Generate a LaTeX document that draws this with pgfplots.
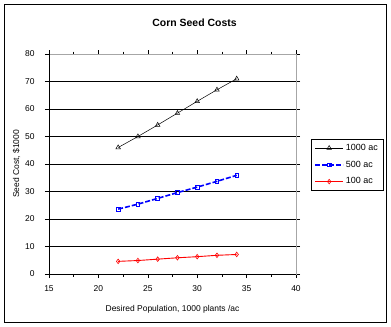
\documentclass[border=0pt]{standalone}
\usepackage{fontspec}
\setmainfont{Liberation Sans}
\usepackage{pgfplots}
\pgfplotsset{compat=1.18}
\begin{document}
\begin{tikzpicture}[x=1bp,y=1bp]
\path[use as bounding box] (-49,-53) rectangle (342,274);
\draw[black, line width=0.8bp] (-45,-48) rectangle (337,270);
\node[font=\fontsize{10.5}{12}\selectfont\bfseries] at (145.5,251.5) {Corn Seed Costs};
\begin{axis}[
  at={(0,0)}, anchor=origin,
  width=247bp, height=220bp, scale only axis,
  xmin=15, xmax=40, ymin=0, ymax=80,
  xtick={15,20,...,40}, ytick={0,10,...,80},
  minor xtick={17.5,22.5,...,37.5},
  tick align=outside,
  major tick length=4bp, minor tick length=2.5bp,
  tick style={black, line width=0.5bp},
  ymajorgrids, grid style={black, line width=0.6bp},
  axis line style={gray!70, line width=0.6bp},
  ticklabel style={font=\fontsize{8.5}{9}\selectfont},
  /pgf/number format/assume math mode=true,
  xticklabel shift=4bp,
  yticklabel style={xshift=-7bp},
  xlabel={Desired Population, 1000 plants /ac},
  ylabel={Seed Cost, \$1000},
  label style={font=\fontsize{8.5}{9}\selectfont},
  xlabel style={yshift=-7bp},
  ylabel style={yshift=-2bp},
  legend style={at={(1.061,0.614)}, anchor=north west, draw=black, line width=0.6bp,
    font=\fontsize{9}{10}\selectfont, inner xsep=3bp, inner ysep=3bp, row sep=5bp},
  legend image code/.code={%
    \draw[mark=none] (0bp,0bp) -- (28bp,0bp);
    \draw[only marks] plot coordinates {(14bp,0bp)};},
  legend cell align=left,
]
\addplot[black, line width=0.5bp, mark=triangle, mark size=2.6bp, mark options={solid, line width=0.5bp}]
 coordinates {(22,46) (24,50) (26,54.2) (28,58.5) (30,62.8) (32,67) (34,71)};
\addlegendentry{1000 ac}
\addplot[blue, line width=1.6bp, dash pattern=on 5bp off 2bp, mark=square, mark size=1.8bp, mark options={solid, line width=0.8bp}]
 coordinates {(22,23.6) (24,25.4) (26,27.5) (28,29.6) (30,31.6) (32,33.7) (34,35.9)};
\addlegendentry{500 ac}
\addplot[red, line width=0.9bp, mark=diamond, mark size=2.3bp, mark options={solid, line width=0.6bp}]
 coordinates {(22,4.6) (24,4.9) (26,5.4) (28,5.9) (30,6.3) (32,6.8) (34,7.1)};
\addlegendentry{100 ac}
\draw[black, line width=0.6bp] (rel axis cs:0,1) -- (rel axis cs:0,0) -- (rel axis cs:1,0);
\end{axis}
\end{tikzpicture}
\end{document}
